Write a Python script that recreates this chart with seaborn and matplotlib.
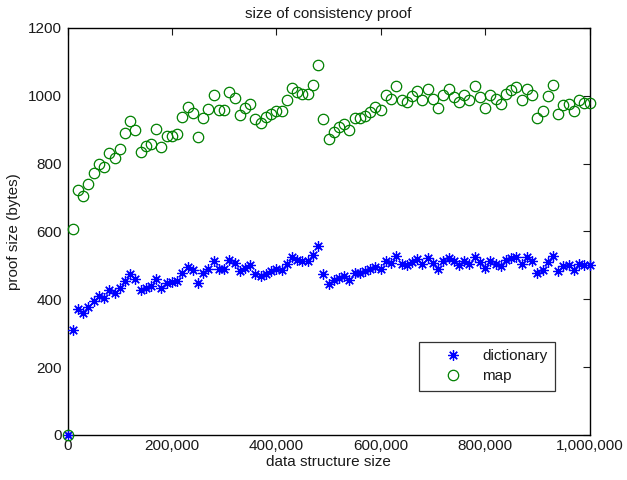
import matplotlib
matplotlib.use("Agg")
import matplotlib.pyplot as plt
from matplotlib.ticker import FuncFormatter
import numpy as np
import pandas as pd
import seaborn as sns

# structure sizes: 0 .. 1,000,000 in steps of 10,000
sizes = list(range(0, 1_000_001, 10_000))

dictionary_bytes = [
    0, 310, 370, 360, 376, 395, 411, 404, 426, 418,
    432, 455, 475, 460, 427, 434, 438, 461, 433, 449,
    450, 453, 478, 496, 485, 448, 478, 490, 513, 488,
    488, 516, 507, 483, 491, 500, 476, 469, 476, 483,
    488, 486, 504, 525, 516, 512, 514, 530, 558, 476,
    445, 457, 463, 469, 457, 478, 478, 482, 489, 494,
    488, 514, 507, 528, 504, 501, 510, 518, 504, 523,
    507, 490, 512, 521, 513, 501, 513, 504, 525, 509,
    492, 512, 505, 498, 515, 521, 525, 504, 524, 512,
    477, 487, 511, 528, 482, 498, 502, 487, 504, 502,
    501,
]

map_bytes = [
    0, 608, 722, 705, 739, 772, 799, 791, 832, 817,
    844, 890, 926, 900, 833, 851, 857, 901, 850, 880,
    880, 887, 937, 968, 950, 878, 934, 962, 1003, 958,
    958, 1010, 992, 944, 963, 977, 932, 920, 936, 946,
    955, 955, 988, 1024, 1011, 1005, 1005, 1033, 1091, 932,
    873, 893, 907, 917, 900, 934, 935, 940, 951, 966,
    957, 1003, 990, 1030, 987, 982, 998, 1013, 988, 1021,
    991, 963, 1002, 1019, 997, 982, 1003, 987, 1028, 996,
    964, 1002, 990, 975, 1006, 1016, 1025, 989, 1021, 1003,
    934, 955, 999, 1032, 946, 974, 977, 955, 987, 980,
    980,
]

x_ticks = [0, 200_000, 400_000, 600_000, 800_000, 1_000_000]
y_ticks = [0, 200, 400, 600, 800, 1000, 1200]

sns.set_theme(style="white")
plt.rcParams["font.family"] = ["Liberation Sans", "DejaVu Sans"]
plt.rcParams["font.size"] = 11

FS = 11
TXT = "#1a1a1a"

df = pd.DataFrame({"size": sizes, "dictionary": dictionary_bytes, "map": map_bytes})

fig = plt.figure(figsize=(6.27, 4.8), dpi=100)
ax = fig.add_axes([0.1077, 0.0938, 0.8325, 0.848])

sns.lineplot(data=df, x="size", y="dictionary", ax=ax, linestyle="",
             marker=(8, 2, 0), markersize=7.5, markeredgewidth=0.9,
             color="#0000ff", markeredgecolor="#0000ff", label="dictionary",
             clip_on=False, zorder=3)
sns.lineplot(data=df, x="size", y="map", ax=ax, linestyle="",
             marker="o", markersize=7.5, markeredgewidth=0.9,
             markerfacecolor="none", markeredgecolor="#008000", color="#008000",
             label="map", clip_on=False, zorder=3)

ax.set_xlim(0, 1_000_000)
ax.set_ylim(0, 1200)
ax.set_xticks(x_ticks)
ax.set_yticks(y_ticks)
ax.xaxis.set_major_formatter(FuncFormatter(lambda v, _: f"{int(v):,}"))
ax.tick_params(direction="in", top=True, right=True, length=5, width=0.8,
               labelsize=FS, colors=TXT, pad=3)
ax.tick_params(axis="y", pad=4)

for s in ax.spines.values():
    s.set_visible(True)
    s.set_color("black")
    s.set_linewidth(1.0)

ax.set_title("size of consistency proof", fontsize=FS, color=TXT, pad=7)
ax.set_xlabel("data structure size", fontsize=FS, color=TXT, labelpad=1)
ax.set_ylabel("proof size (bytes)", fontsize=FS, color=TXT, labelpad=5)

leg = ax.legend(loc="lower left", bbox_to_anchor=(0.673, 0.108),
                borderaxespad=0, frameon=True, fancybox=False, shadow=False,
                fontsize=FS, handlelength=3.5, handletextpad=0.15,
                borderpad=0.5, labelspacing=0.4)
leg.get_frame().set_edgecolor("black")
leg.get_frame().set_linewidth(0.9)
leg.get_frame().set_facecolor("white")
for t in leg.get_texts():
    t.set_color(TXT)

fig.savefig("out.png", dpi=100, facecolor="white")
